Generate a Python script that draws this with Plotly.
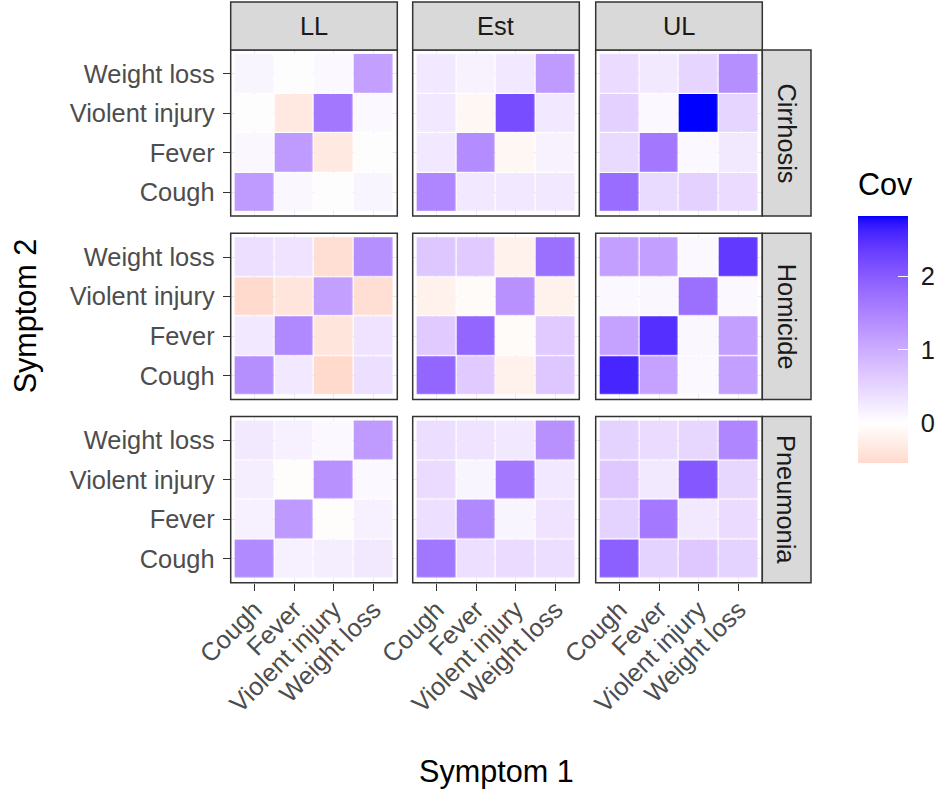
import numpy as np
import plotly.graph_objects as go

# ---------------- data ----------------
symptoms = ["Cough", "Fever", "Violent injury", "Weight loss"]
estimates = ["LL", "Est", "UL"]
causes = ["Cirrhosis", "Homicide", "Pneumonia"]

# rows = Symptom 2 (Cough, Fever, Violent injury, Weight loss), cols = Symptom 1 (same order)
cirrhosis_ll = [[1.22, 0.10, 0.00, 0.12],
                [0.10, 1.22, -0.33, 0.01],
                [0.00, -0.33, 1.65, 0.08],
                [0.12, 0.01, 0.08, 1.15]]
cirrhosis_est = [[1.47, 0.28, 0.28, 0.28],
                 [0.28, 1.40, -0.12, 0.16],
                 [0.28, -0.12, 2.18, 0.28],
                 [0.28, 0.16, 0.28, 1.22]]
cirrhosis_ul = [[1.78, 0.45, 0.55, 0.42],
                [0.45, 1.65, 0.07, 0.27],
                [0.55, 0.07, 2.82, 0.50],
                [0.42, 0.27, 0.50, 1.36]]
homicide_ll = [[1.36, 0.28, -0.54, 0.38],
               [0.28, 1.45, -0.38, 0.33],
               [-0.54, -0.38, 1.15, -0.48],
               [0.38, 0.33, -0.48, 1.36]]
homicide_est = [[1.87, 0.64, -0.20, 0.68],
                [0.64, 1.87, -0.06, 0.64],
                [-0.20, -0.06, 1.33, -0.20],
                [0.68, 0.64, -0.20, 1.75]]
homicide_ul = [[2.60, 1.13, 0.07, 1.16],
               [1.13, 2.50, 0.10, 1.15],
               [0.07, 0.10, 1.75, 0.07],
               [1.16, 1.15, 0.07, 2.40]]
pneumonia_ll = [[1.42, 0.18, 0.20, 0.27],
                [0.18, 1.24, -0.04, 0.17],
                [0.20, -0.04, 1.33, 0.08],
                [0.27, 0.17, 0.08, 1.22]]
pneumonia_est = [[1.66, 0.38, 0.43, 0.40],
                 [0.38, 1.43, 0.12, 0.33],
                 [0.43, 0.12, 1.65, 0.28],
                 [0.40, 0.33, 0.28, 1.33]]
pneumonia_ul = [[1.95, 0.52, 0.66, 0.52],
                [0.52, 1.63, 0.27, 0.42],
                [0.66, 0.27, 2.05, 0.48],
                [0.52, 0.42, 0.48, 1.47]]

panels = {
    ("Cirrhosis", "LL"): cirrhosis_ll, ("Cirrhosis", "Est"): cirrhosis_est, ("Cirrhosis", "UL"): cirrhosis_ul,
    ("Homicide", "LL"): homicide_ll, ("Homicide", "Est"): homicide_est, ("Homicide", "UL"): homicide_ul,
    ("Pneumonia", "LL"): pneumonia_ll, ("Pneumonia", "Est"): pneumonia_est, ("Pneumonia", "UL"): pneumonia_ul,
}

# ---------------- colour scale (ggplot gradient2, Lab interpolation) ----------------
def _lin(c):
    c = c / 255.0
    return ((c + 0.055) / 1.055) ** 2.4 if c > 0.04045 else c / 12.92

def _delin(c):
    c = 12.92 * c if c <= 0.0031308 else 1.055 * c ** (1 / 2.4) - 0.055
    return int(round(min(max(c, 0), 1) * 255))

WP = (0.95047, 1.0, 1.08883)

def rgb2lab(rgb):
    r, g, b = [_lin(v) for v in rgb]
    X = 0.4124 * r + 0.3576 * g + 0.1805 * b
    Y = 0.2126 * r + 0.7152 * g + 0.0722 * b
    Z = 0.0193 * r + 0.1192 * g + 0.9505 * b
    def f(t):
        return t ** (1 / 3) if t > 0.008856 else 7.787 * t + 16 / 116
    fx, fy, fz = f(X / WP[0]), f(Y / WP[1]), f(Z / WP[2])
    return (116 * fy - 16, 500 * (fx - fy), 200 * (fy - fz))

def lab2rgb(lab):
    L, a, b = lab
    fy = (L + 16) / 116
    fx = fy + a / 500
    fz = fy - b / 200
    def finv(t):
        return t ** 3 if t ** 3 > 0.008856 else (t - 16 / 116) / 7.787
    X, Y, Z = finv(fx) * WP[0], finv(fy) * WP[1], finv(fz) * WP[2]
    r = 3.2406 * X - 1.5372 * Y - 0.4986 * Z
    g = -0.9689 * X + 1.8758 * Y + 0.0415 * Z
    bb = 0.0557 * X - 0.2040 * Y + 1.0570 * Z
    return "#%02X%02X%02X" % (_delin(r), _delin(g), _delin(bb))

LOW, MID, HIGH = rgb2lab((255, 0, 0)), rgb2lab((255, 255, 255)), rgb2lab((0, 0, 255))

allv = np.array([np.array(m) for m in panels.values()])
cmin, cmax = float(allv.min()), float(allv.max())
M = max(abs(cmin), abs(cmax))

colorscale = []
for v in np.linspace(cmin, cmax, 61):
    t = v / M
    end = HIGH if t >= 0 else LOW
    t = abs(t)
    lab = tuple(MID[i] + (end[i] - MID[i]) * t for i in range(3))
    colorscale.append([float((v - cmin) / (cmax - cmin)), lab2rgb(lab)])
colorscale[0][0] = 0.0
colorscale[-1][0] = 1.0

# ---------------- layout geometry (pixels) ----------------
W, H = 941, 791
col_px = [(230.7, 397.3), (412.7, 579.3), (595.7, 762.3)]
row_px = [(50.0, 216.1), (233.3, 399.4), (416.6, 582.7)]
strip_top = (2.0, 50.0)
strip_right = (762.3, 811.0)

def px(x):
    return x / W

def py(y):
    return 1 - y / H

FONT = "Liberation Sans, Arial, sans-serif"
TICK_FS = 25.4
TITLE_FS = 30.6
NB = "\u00a0"

fig = go.Figure()
layout = dict(
    width=W, height=H,
    margin=dict(l=0, r=0, t=0, b=0, pad=0, autoexpand=False),
    paper_bgcolor="white", plot_bgcolor="white",
    font=dict(family=FONT, color="#1A1A1A"),
    showlegend=False,
)

shapes = []
annotations = []
k = 0
for ri, cause in enumerate(causes):
    for ci, est in enumerate(estimates):
        k += 1
        xa = "x" if k == 1 else f"x{k}"
        ya = "y" if k == 1 else f"y{k}"
        z = panels[(cause, est)]
        fig.add_trace(go.Heatmap(
            x=list(range(len(symptoms))), y=list(range(len(symptoms))), z=z,
            xaxis=xa, yaxis=ya, coloraxis="coloraxis", xgap=1.2, ygap=1.2,
            hovertemplate="Symptom 1: %{x}<br>Symptom 2: %{y}<br>Cov: %{z}<extra></extra>",
        ))
        bottom = ri == len(causes) - 1
        left = ci == 0
        xkey = "xaxis" if k == 1 else f"xaxis{k}"
        ykey = "yaxis" if k == 1 else f"yaxis{k}"
        layout[xkey] = dict(
            domain=[px(col_px[ci][0]), px(col_px[ci][1])],
            anchor=ya, range=[-0.6, 3.6], automargin=False,
            tickvals=list(range(len(symptoms))), ticktext=symptoms,
            showticklabels=bottom, ticks="outside" if bottom else "",
            ticklen=7, tickwidth=1.4, tickcolor="#333333",
            tickangle=-45, tickfont=dict(size=TICK_FS, color="#4D4D4D", family=FONT),
            ticklabelstandoff=-6,
            showgrid=True, gridcolor="#EBEBEB", gridwidth=1,
            zeroline=False, showline=False, fixedrange=True,
        )
        layout[ykey] = dict(
            domain=[py(row_px[ri][1]), py(row_px[ri][0])],
            anchor=xa, range=[-0.6, 3.6], automargin=False,
            tickvals=list(range(len(symptoms))), ticktext=symptoms,
            showticklabels=left, ticks="outside" if left else "",
            ticklen=7, tickwidth=1.4, tickcolor="#333333",
            tickfont=dict(size=TICK_FS, color="#4D4D4D", family=FONT),
            ticklabelstandoff=3,
            showgrid=True, gridcolor="#EBEBEB", gridwidth=1,
            zeroline=False, showline=False, fixedrange=True,
        )
        shapes.append(dict(type="rect", xref="paper", yref="paper",
                           x0=px(col_px[ci][0]), x1=px(col_px[ci][1]),
                           y0=py(row_px[ri][1]), y1=py(row_px[ri][0]),
                           line=dict(color="#333333", width=1.5), fillcolor="rgba(0,0,0,0)",
                           layer="above"))

# top strips
for ci, est in enumerate(estimates):
    shapes.append(dict(type="rect", xref="paper", yref="paper",
                       x0=px(col_px[ci][0]), x1=px(col_px[ci][1]),
                       y0=py(strip_top[1]), y1=py(strip_top[0]),
                       line=dict(color="#333333", width=1.5), fillcolor="#D9D9D9", layer="above"))
    annotations.append(dict(text=est, xref="paper", yref="paper",
                            x=px((col_px[ci][0] + col_px[ci][1]) / 2),
                            y=py((strip_top[0] + strip_top[1]) / 2),
                            showarrow=False, xanchor="center", yanchor="middle",
                            font=dict(size=TICK_FS, color="#1A1A1A", family=FONT)))
# right strips
for ri, cause in enumerate(causes):
    shapes.append(dict(type="rect", xref="paper", yref="paper",
                       x0=px(strip_right[0]), x1=px(strip_right[1]),
                       y0=py(row_px[ri][1]), y1=py(row_px[ri][0]),
                       line=dict(color="#333333", width=1.5), fillcolor="#D9D9D9", layer="above"))
    annotations.append(dict(text=cause, xref="paper", yref="paper",
                            x=px((strip_right[0] + strip_right[1]) / 2),
                            y=py((row_px[ri][0] + row_px[ri][1]) / 2),
                            showarrow=False, xanchor="center", yanchor="middle", textangle=90,
                            font=dict(size=TICK_FS, color="#1A1A1A", family=FONT)))

# axis titles
annotations.append(dict(text="Symptom 1", xref="paper", yref="paper",
                        x=px((col_px[0][0] + col_px[2][1]) / 2), y=py(771),
                        showarrow=False, xanchor="center", yanchor="middle",
                        font=dict(size=TITLE_FS, color="black", family=FONT)))
annotations.append(dict(text="Symptom 2", xref="paper", yref="paper",
                        x=px(25), y=py((row_px[0][0] + row_px[2][1]) / 2),
                        showarrow=False, xanchor="center", yanchor="middle", textangle=-90,
                        font=dict(size=TITLE_FS, color="black", family=FONT)))
# legend title
annotations.append(dict(text="Cov", xref="paper", yref="paper",
                        x=px(856), y=py(184),
                        showarrow=False, xanchor="left", yanchor="middle",
                        font=dict(size=TITLE_FS, color="black", family=FONT)))

cb_ticks = [0, 1, 2]
bar_top, bar_bot = 216.0, 462.7
layout["coloraxis"] = dict(
    cmin=cmin, cmax=cmax, colorscale=colorscale,
    colorbar=dict(
        x=px(857.7), xanchor="left", xpad=0,
        y=py(bar_top), yanchor="top", ypad=0,
        len=(bar_bot - bar_top) / H, lenmode="fraction",
        thickness=50, thicknessmode="pixels",
        outlinewidth=0,
        tickvals=cb_ticks, ticktext=[NB + str(t) for t in cb_ticks],
        ticks="inside", ticklen=10, tickwidth=1.2, tickcolor="white",
        tickfont=dict(size=TICK_FS, color="#1A1A1A", family=FONT),
        title=dict(text=""),
    ),
)
layout["shapes"] = shapes
layout["annotations"] = annotations
fig.update_layout(**layout)
fig.write_html("out.html",
               config={"displayModeBar": False},
               post_script="document.body.style.margin='0';document.body.style.overflow='hidden';")
